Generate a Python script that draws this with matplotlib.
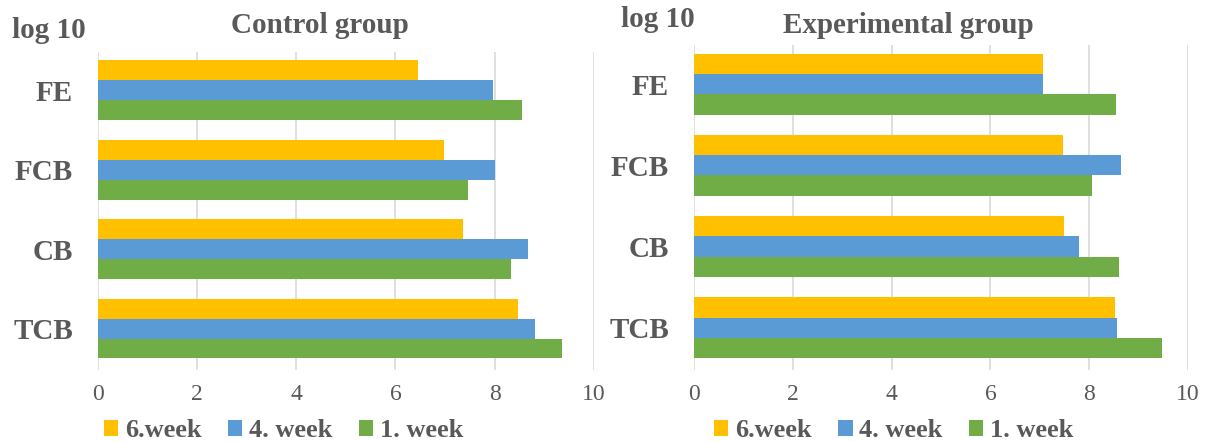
import numpy as np
import matplotlib.pyplot as plt

plt.rcParams['font.family'] = ['Liberation Serif', 'DejaVu Serif']

categorias = ["TCB", "CB", "FCB", "FE"]
series = ["6.week", "4. week", "1. week"]
colores = ["#FFC000", "#5B9BD5", "#70AD47"]

# control group (orden: TCB, CB, FCB, FE)
control_6 = [8.48, 7.36, 6.98, 6.46]
control_4 = [8.82, 8.67, 8.01, 7.97]
control_1 = [9.37, 8.34, 7.47, 8.56]

# experimental group
exp_6 = [8.52, 7.49, 7.46, 7.07]
exp_4 = [8.57, 7.79, 8.65, 7.07]
exp_1 = [9.48, 8.60, 8.06, 8.54]

gris = "#595959"

fig = plt.figure(figsize=(12.06, 4.42), dpi=100)
ax1 = fig.add_axes([0.0813, 0.163, 0.411, 0.719])
ax2 = fig.add_axes([0.5755, 0.163, 0.4096, 0.735])


def dibujar(ax, datos, titulo, xt, xl):
    y = np.arange(len(categorias))
    h = 0.25
    # de arriba a abajo: 6.week, 4. week, 1. week
    offsets = [h, 0, -h]
    for vals, off, c, lab in zip(datos, offsets, colores, series):
        ax.barh(y + off, vals, height=h, color=c, label=lab, zorder=2)
    ax.set_xlim(0, 10)
    ax.set_ylim(-0.52, 3.48)
    ax.set_xticks([0, 2, 4, 6, 8, 10])
    ax.set_yticks(y)
    ax.set_yticklabels(categorias, fontsize=21, fontweight='bold', color=gris)
    ax.tick_params(axis='x', labelsize=17, labelcolor=gris, length=0, pad=10)
    ax.tick_params(axis='y', length=0, pad=18)
    ax.grid(axis='x', color='#D9D9D9', linewidth=1.2, zorder=0)
    for s in ax.spines.values():
        s.set_visible(False)
    fig.text(xt, 0.943, titulo, fontsize=21, fontweight='bold', color=gris,
             ha='center', va='center')
    fig.legend(*ax.get_legend_handles_labels(), loc='center',
               bbox_to_anchor=(xl, 0.026), ncol=3, frameon=False,
               prop={'size': 19, 'weight': 'bold'}, labelcolor=gris,
               handlelength=0.55, handleheight=0.55, handletextpad=0.25,
               columnspacing=1.0, borderpad=0, borderaxespad=0)


dibujar(ax1, [control_6, control_4, control_1], "Control group", 0.265, 0.235)
dibujar(ax2, [exp_6, exp_4, exp_1], "Experimental group", 0.753, 0.741)

fig.text(0.010, 0.932, "log 10", fontsize=21, fontweight='bold', color=gris, va='center')
fig.text(0.515, 0.955, "log 10", fontsize=21, fontweight='bold', color=gris, va='center')

fig.savefig("out.png", dpi=100)
